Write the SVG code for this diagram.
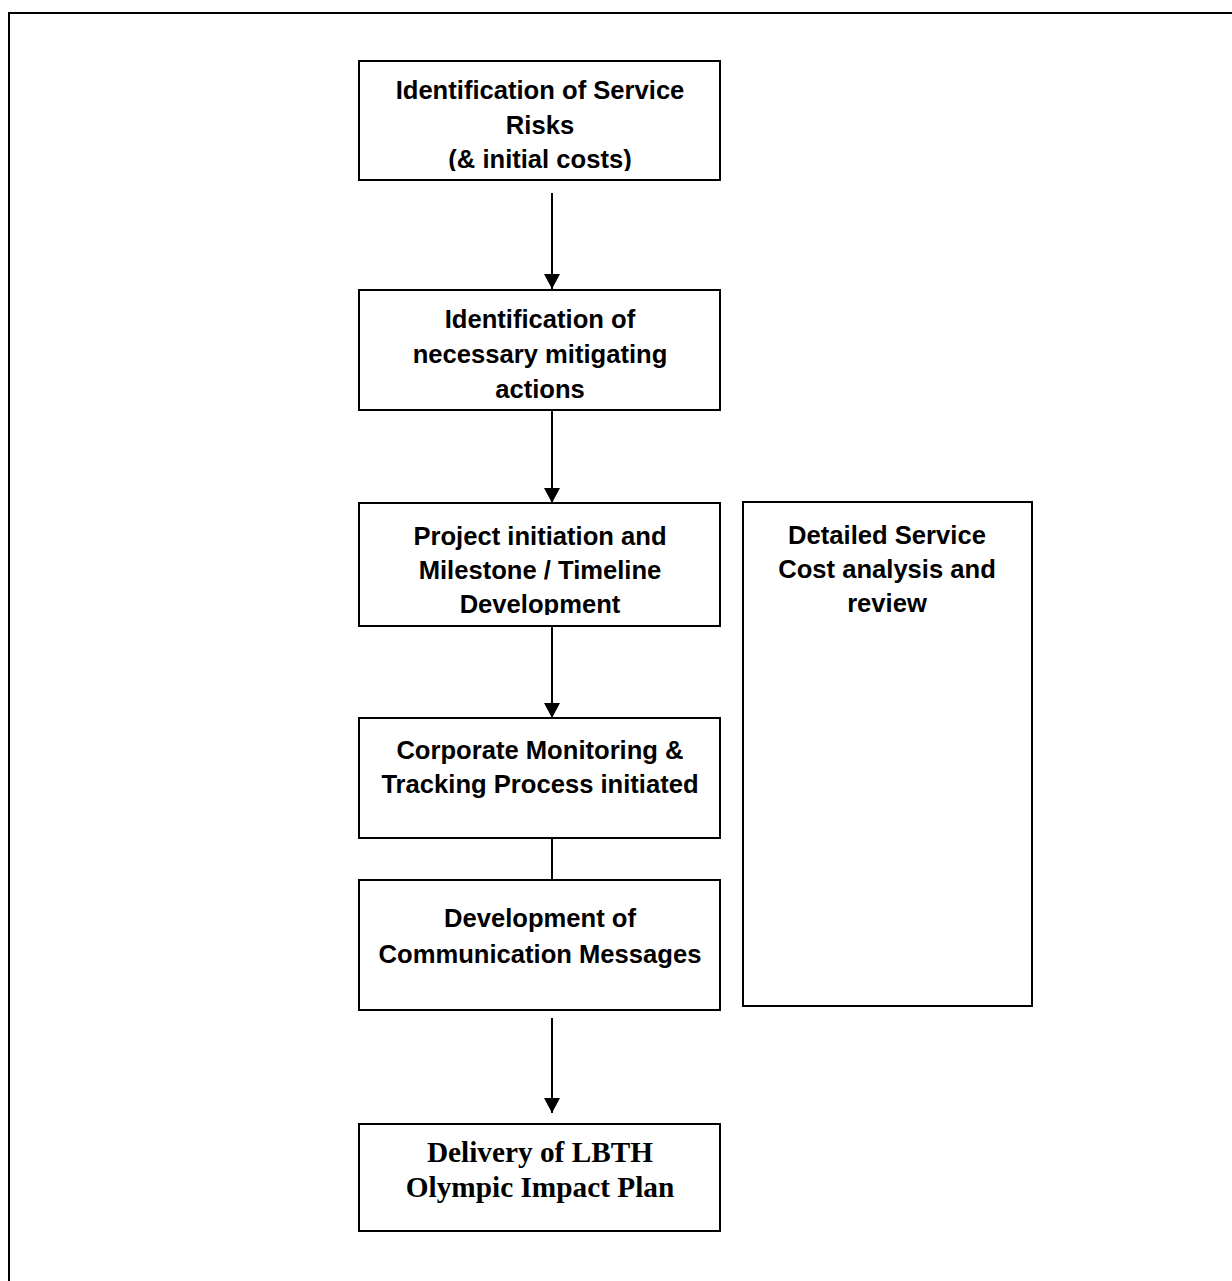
<svg xmlns="http://www.w3.org/2000/svg" width="1232" height="1281" viewBox="0 0 1232 1281">
<style>
.box{fill:#fff;stroke:#000;stroke-width:2}
.t{font-family:"Liberation Sans",Arial,sans-serif;font-weight:bold;font-size:25.6px;fill:#000;text-anchor:middle}
.s{font-family:"Liberation Serif","Times New Roman",serif;font-weight:bold;font-size:29.3px;fill:#000;text-anchor:middle}
.c{stroke:#000;stroke-width:2;fill:none}
</style>
<defs>
<clipPath id="clip1"><rect x="359" y="61" width="361" height="110"/></clipPath>
<clipPath id="clip3"><rect x="359" y="503" width="361" height="112"/></clipPath>
</defs>
<rect width="1232" height="1281" fill="#fff"/>
<g id="frame">
<path d="M9,1281 L9,13 L1232,13" class="c"/>
</g>
<g id="connectors">
<line x1="552" y1="193" x2="552" y2="289" class="c"/>
<path d="M544,274 L560,274 L552,289 Z" fill="#000"/>
<line x1="552" y1="410" x2="552" y2="503" class="c"/>
<path d="M544,488 L560,488 L552,503 Z" fill="#000"/>
<line x1="552" y1="626" x2="552" y2="718" class="c"/>
<path d="M544,703 L560,703 L552,718 Z" fill="#000"/>
<line x1="552" y1="838" x2="552" y2="880" class="c"/>
<line x1="552" y1="1018" x2="552" y2="1113" class="c"/>
<path d="M544,1098 L560,1098 L552,1113 Z" fill="#000"/>
</g>
<g id="node1">
<rect x="359" y="61" width="361" height="119" class="box"/>
<g clip-path="url(#clip1)">
<text class="t" x="540" y="99">Identification of Service</text>
<text class="t" x="540" y="134">Risks</text>
<text class="t" x="540" y="168">(&amp; initial costs)</text>
</g>
</g>
<g id="node2">
<rect x="359" y="290" width="361" height="120" class="box"/>
<text class="t" x="540" y="328">Identification of</text>
<text class="t" x="540" y="363">necessary mitigating</text>
<text class="t" x="540" y="398">actions</text>
</g>
<g id="node3">
<rect x="359" y="503" width="361" height="123" class="box"/>
<g clip-path="url(#clip3)">
<text class="t" x="540" y="545">Project initiation and</text>
<text class="t" x="540" y="579">Milestone / Timeline</text>
<text class="t" x="540" y="613">Development</text>
</g>
</g>
<g id="node4">
<rect x="359" y="718" width="361" height="120" class="box"/>
<text class="t" x="540" y="759">Corporate Monitoring &amp;</text>
<text class="t" x="540" y="793">Tracking Process initiated</text>
</g>
<g id="node5">
<rect x="359" y="880" width="361" height="130" class="box"/>
<text class="t" x="540" y="927">Development of</text>
<text class="t" x="540" y="963">Communication Messages</text>
</g>
<g id="node6">
<rect x="359" y="1124" width="361" height="107" class="box"/>
<text class="s" x="540" y="1162">Delivery of LBTH</text>
<text class="s" x="540" y="1197">Olympic Impact Plan</text>
</g>
<g id="node7">
<rect x="743" y="502" width="289" height="504" class="box"/>
<text class="t" x="887" y="544">Detailed Service</text>
<text class="t" x="887" y="578">Cost analysis and</text>
<text class="t" x="887" y="612">review</text>
</g>
</svg>
